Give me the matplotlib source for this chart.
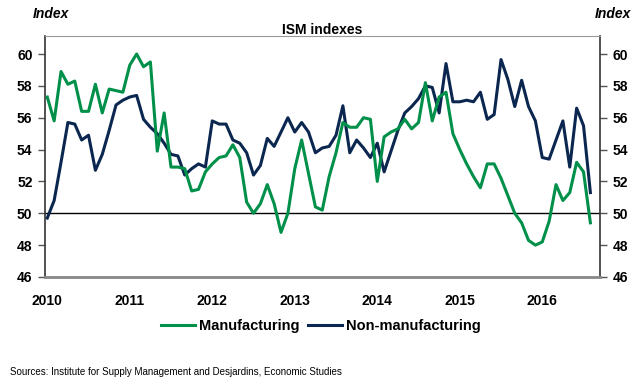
import numpy as np
import matplotlib.pyplot as plt

# monthly readings, Jan 2010 - Aug 2016
manufacturing = [57.3, 55.8, 58.9, 58.1, 58.3, 56.4, 56.4, 58.1, 56.3, 57.8, 57.7, 57.6,
                 59.3, 60.0, 59.2, 59.5, 53.9, 56.3, 52.9, 52.9, 52.8, 51.4, 51.5, 52.6,
                 53.1, 53.5, 53.6, 54.3, 53.5, 50.7, 50.0, 50.6, 51.8, 50.6, 48.8, 50.0,
                 52.8, 54.6, 52.5, 50.4, 50.2, 52.3, 53.8, 55.7, 55.4, 55.4, 56.0, 55.9,
                 52.0, 54.8, 55.1, 55.3, 55.9, 55.3, 55.7, 58.2, 55.8, 57.3, 57.6, 55.0,
                 54.0, 53.1, 52.3, 51.6, 53.1, 53.1, 52.2, 51.1, 50.0, 49.4, 48.3, 48.0,
                 48.2, 49.5, 51.8, 50.8, 51.3, 53.2, 52.6, 49.4]
non_manufacturing = [49.7, 50.8, 53.2, 55.7, 55.6, 54.6, 54.9, 52.7, 53.7, 55.2, 56.8, 57.1,
                     57.3, 57.4, 55.9, 55.4, 55.0, 54.4, 53.7, 53.6, 52.4, 52.8, 53.1, 52.9,
                     55.8, 55.6, 55.6, 54.6, 54.4, 53.8, 52.4, 53.0, 54.7, 54.2, 55.1, 56.0,
                     55.1, 55.7, 55.1, 53.8, 54.1, 54.2, 54.9, 56.75, 53.8, 54.6, 54.1, 53.5,
                     54.4, 52.6, 53.9, 55.2, 56.3, 56.7, 57.2, 58.0, 57.9, 56.3, 59.4, 57.0,
                     57.0, 57.1, 57.0, 57.6, 55.9, 56.2, 59.65, 58.4, 56.7, 58.35, 56.7, 55.8,
                     53.5, 53.4, 54.6, 55.8, 52.9, 56.6, 55.5, 51.3]
years = ['2010', '2011', '2012', '2013', '2014', '2015', '2016']

plt.rcParams['font.family'] = ['Liberation Sans', 'DejaVu Sans']

green = '#00904A'
navy = '#0B2750'

months = np.arange(len(manufacturing))

fig = plt.figure(figsize=(6.42, 3.81), dpi=100)
ax = fig.add_axes([0.0701, 0.273, 0.8645, 0.6325])

ax.axhline(50, color='black', lw=1, zorder=1)
ax.plot(months, manufacturing, color=green, lw=2.2, label='Manufacturing', zorder=3)
ax.plot(months, non_manufacturing, color=navy, lw=2.2, label='Non-manufacturing', zorder=2)

ax.set_xlim(-0.33, 80.4)
ax.set_ylim(46, 61.13)
ax.set_yticks(np.arange(46, 61, 2))
ax.set_xticks(np.arange(len(years)) * 12)
ax.set_xticklabels(years)

ax.tick_params(axis='x', length=0, pad=12, labelsize=10)
ax.tick_params(axis='y', left=True, right=True, labelleft=True, labelright=True,
               length=5, width=1, color='#555555', labelsize=10, pad=4)
for lab in ax.get_xticklabels() + ax.get_yticklabels():
    lab.set_fontweight('bold')

ax.spines['left'].set_color('#333333')
ax.spines['right'].set_color('#333333')
ax.spines['top'].set_color('#999999')
ax.spines['bottom'].set_color('#888888')
ax.spines['bottom'].set_linewidth(2)
ax.spines['left'].set_linewidth(1.2)
ax.spines['right'].set_linewidth(1.2)

fig.text(0.5 * (0.0701 + 0.9346), 0.921, 'ISM indexes', ha='center', va='center',
         fontsize=10, fontweight='bold')
fig.text(33 / 642, 0.963, 'Index', ha='left', va='center', fontsize=10,
         fontweight='bold', style='italic')
fig.text(631 / 642, 0.963, 'Index', ha='right', va='center', fontsize=10,
         fontweight='bold', style='italic')

leg = fig.legend(loc='center', bbox_to_anchor=(0.5, 0.144), ncol=2, frameon=False,
                 handlelength=2.3, columnspacing=0.6, handletextpad=0.3,
                 prop={'size': 10.5, 'weight': 'bold'})

fig.text(10 / 642, 9 / 381, 'Sources: Institute for Supply Management and Desjardins, Economic Studies',
         ha='left', va='center', fontsize=7)

fig.savefig('out.png', dpi=100)
